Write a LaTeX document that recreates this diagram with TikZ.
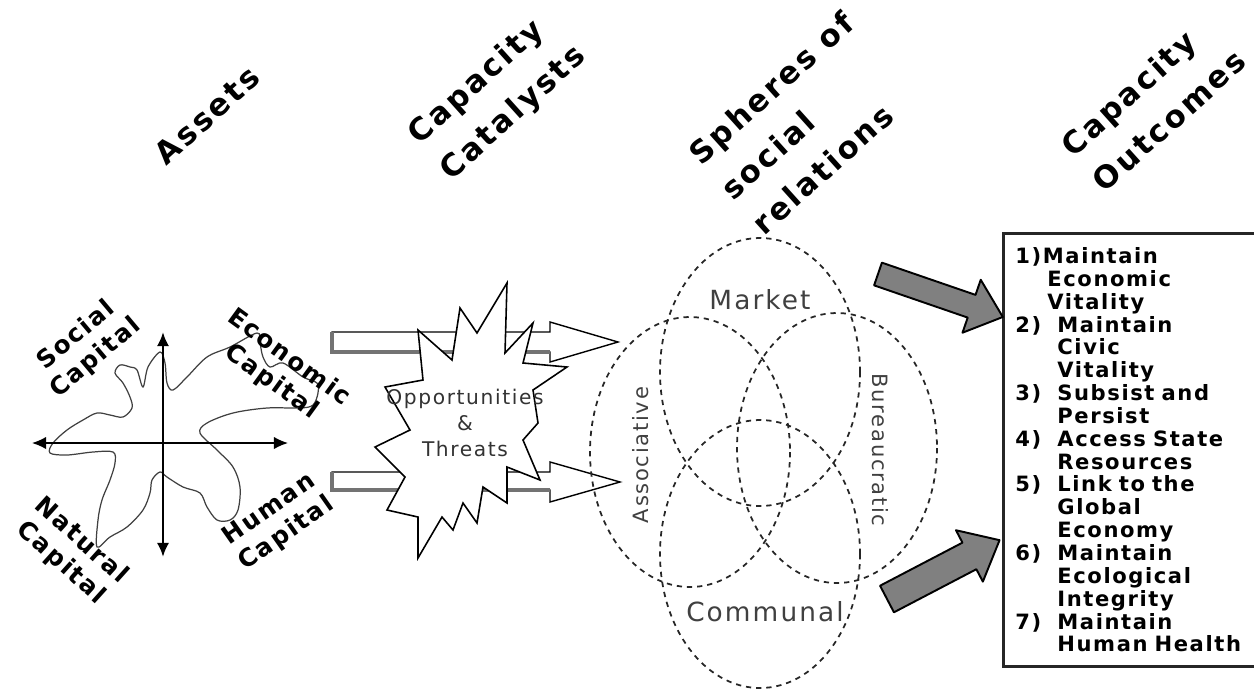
\documentclass[tikz,border=0pt]{standalone}
\usepackage{fontspec}
\setmainfont{DejaVu Sans}
\newfontfamily\headfont{DejaVu Sans}[LetterSpace=9]
\newfontfamily\labfont{DejaVu Sans}[LetterSpace=8]
\newfontfamily\boxfont{DejaVu Sans}[LetterSpace=7.5, WordSpace=2.2]
\usetikzlibrary{arrows.meta, calc}
\newcommand\outitem[1]{\makebox[0.84cm][l]{#1}}
\tikzset{
    %Define standard arrow tip
    >={Latex[length=8pt, width=7pt]},
    % Define style for the column titles
    coltitle/.style={
           font=\headfont\bfseries\fontsize{17.5}{27}\selectfont,
           rotate=42,
           align=left,
           inner sep=0pt},
    % Define style for the capital labels
    capital/.style={
           font=\labfont\bfseries\fontsize{14}{17}\selectfont,
           align=center,
           inner sep=0pt},
    % Define style for the sphere circles and names
    sphere/.style={
           dashed,
           dash pattern=on 3pt off 2.8pt,
           line width=1pt,
           draw=black!85},
    spherename/.style={
           font=\labfont\fontsize{15}{18}\selectfont,
           text=black!75,
           inner sep=0pt},
    % Define arrow styles
    axisarrow/.style={
           <->,
           line width=0.8pt},
    hollowarr/.style={
           draw=black,
           fill=white,
           line width=0.8pt},
    arrowshadow/.style={
           draw=black!55,
           line width=2.2pt},
    blockarr/.style={
           draw=black,
           fill=black!50,
           line width=1.1pt,
           line join=round},
    % Define style for the outcome box
    outbox/.style={
           rectangle,
           draw=black!85,
           line width=1.6pt,
           align=left,
           inner xsep=0.24cm,
           text width=4.9cm,
           minimum height=8.66cm,
           font=\boxfont\bfseries\fontsize{12}{13}\selectfont}
}

\begin{document}
\begin{tikzpicture}[x=0.02cm, y=-0.02cm]
	\useasboundingbox (0,0) rectangle (1254,691);
	%
	% titles
	%
	\node[coltitle] (assets) at (207,115) {Assets};
	\node[coltitle] (catalysts) at (498,96) {Capacity\\Catalysts};
	\node[coltitle] (spheres) at (803,123) {Spheres of\\social\\relations};
	\node[coltitle] (outcomes) at (1153,103) {Capacity\\Outcomes};
	%
	% assets
	%
	\draw[black!75, line width=0.7pt] plot[smooth cycle, tension=0.55] coordinates {
		(160,352) (148,367) (143,387) (137,370) (130,367) (120,365) (115,373)
		(123,383) (130,397) (132,408) (123,417) (110,415) (97,413) (83,420)
		(67,430) (53,443) (50,453) (67,455) (93,452) (113,452) (115,463)
		(110,480) (102,500) (98,520) (97,547) (110,537) (127,527) (143,510)
		(150,493) (152,480) (160,472) (167,477) (183,487) (200,493) (207,507)
		(217,520) (230,520) (238,510) (240,487) (233,467) (217,450) (200,433)
		(207,423) (233,413) (267,408) (300,408) (313,405) (318,393) (317,383)
		(303,377) (283,363) (270,367) (263,357) (260,343) (257,333) (230,347)
		(207,357) (187,377) (173,390) (167,383) (165,363)};
	\coordinate (axn) at (163,332);
	\coordinate (axs) at (163,557);
	\coordinate (axw) at (32,443);
	\coordinate (axe) at (288,443);
	\draw[axisarrow] (axw) -- (axe);
	\draw[axisarrow, line width=1.6pt] (axn) -- (axs);
	\node[capital, rotate=40] (social) at (86,347) {Social\\Capital};
	\node[capital, rotate=-36] (economic) at (280,370) {Economic\\Capital};
	\node[capital, rotate=-42] (natural) at (71,552) {Natural\\Capital};
	\node[capital, rotate=35] (human) at (278,522) {Human\\Capital};
	%
	% hollow arrows
	%
	\coordinate (upt) at (332,342);
	\coordinate (uph) at (618,342);
	\coordinate (lot) at (332,481);
	\coordinate (loh) at (620,482);
	\draw[hollowarr] ($(upt)+(0,-10)$) -- ($(uph)+(-68,-10)$) -- ($(uph)+(-68,-20)$) -- (uph)
		-- ($(uph)+(-68,20)$) -- ($(uph)+(-68,10)$) -- ($(upt)+(0,10)$) -- cycle;
	\draw[arrowshadow] ($(upt)+(0,-10)$) -- ($(upt)+(0,10)$) -- ($(uph)+(-68,10)$);
	\draw[hollowarr] ($(lot)+(0,-9)$) -- ($(loh)+(-70,-10)$) -- ($(loh)+(-70,-20)$) -- (loh)
		-- ($(loh)+(-70,20)$) -- ($(loh)+(-70,8)$) -- ($(lot)+(0,9)$) -- cycle;
	\draw[arrowshadow] ($(lot)+(0,-9)$) -- ($(lot)+(0,9)$) -- ($(loh)+(-70,8)$);
	%
	% starburst
	%
	\draw[fill=white, line width=0.9pt, line join=miter] (418,330) -- (452,360) -- (460,308) -- (477,333)
		-- (507,283) -- (505,353) -- (533,323) -- (523,363) -- (567,367) -- (533,390)
		-- (538,423) -- (523,440) -- (540,480) -- (507,467) -- (507,503) -- (483,487)
		-- (477,523) -- (463,503) -- (453,530) -- (442,517) -- (418,558) -- (418,517)
		-- (387,510) -- (405,477) -- (375,447) -- (410,430) -- (385,387) -- (423,380) -- cycle;
	\node[font=\labfont\fontsize{11.5}{15}\selectfont, text=black!80, align=center] (threats) at (465,423)
		{Opportunities\\\&\\Threats};
	%
	% spheres
	%
	\coordinate (market) at (760,372);
	\coordinate (communal) at (760,554);
	\coordinate (associative) at (690,452);
	\coordinate (bureaucratic) at (837,448);
	\draw[sphere] (market) ellipse [x radius=100, y radius=134];
	\draw[sphere] (communal) ellipse [x radius=100, y radius=134];
	\draw[sphere] (associative) ellipse [x radius=100, y radius=135];
	\draw[sphere] (bureaucratic) ellipse [x radius=100, y radius=135];
	\node[spherename] (marketname) at (760,300) {Market};
	\node[spherename] (communalname) at (765,612) {Communal};
	\node[spherename, font=\labfont\fontsize{12}{14}\selectfont, rotate=90] (assocname) at (641,455) {Associative};
	\node[spherename, font=\labfont\fontsize{12}{14}\selectfont, rotate=-90] (bureauname) at (880,450) {Bureaucratic};
	%
	% outcomes
	%
	\node[outbox, anchor=north west] (outlist) at (1002,232) {%
		1)Maintain\\
		\hspace*{0.64cm}Economic\\
		\hspace*{0.64cm}Vitality\\
		\outitem{2)}Maintain\\
		\hspace*{0.84cm}Civic\\
		\hspace*{0.84cm}Vitality\\
		\outitem{3)}Subsist and\\
		\hspace*{0.84cm}Persist\\
		\outitem{4)}Access State\\
		\hspace*{0.84cm}Resources\\
		\outitem{5)}Link to the\\
		\hspace*{0.84cm}Global\\
		\hspace*{0.84cm}Economy\\
		\outitem{6)}Maintain\\
		\hspace*{0.84cm}Ecological\\
		\hspace*{0.84cm}Integrity\\
		\outitem{7)}Maintain\\
		\hspace*{0.84cm}Human Health};
	\coordinate (upfrom) at (878,274);
	\coordinate (lofrom) at (887,599);
	\begin{scope}[shift={(upfrom)}, rotate=-19]
		\draw[blockarr] (0,-12) -- (99,-12) -- (99,-28) -- (132,0) -- (99,28) -- (99,12) -- (0,12) -- cycle;
	\end{scope}
	\begin{scope}[shift={(lofrom)}, rotate=27.6]
		\draw[blockarr] (0,-15) -- (93,-15) -- (93,-29) -- (127,0) -- (93,29) -- (93,15) -- (0,15) -- cycle;
	\end{scope}
\end{tikzpicture}
\end{document}
